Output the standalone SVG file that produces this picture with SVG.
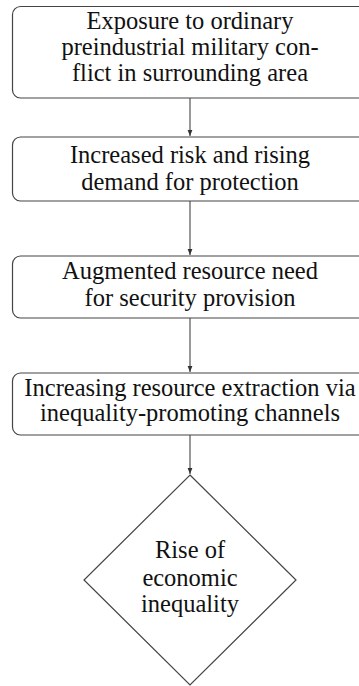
<svg xmlns="http://www.w3.org/2000/svg" width="359" height="686" viewBox="0 0 359 686">
<style>
.box{fill:#fff;stroke:#444;stroke-width:1.2}
.t{font-family:'Liberation Serif','Times New Roman',serif;font-size:24.5px;fill:#111;text-anchor:middle}
.c{stroke:#444;stroke-width:1.1;fill:none}
</style>
<defs>
<marker id="ah" viewBox="0 0 10 10" refX="10" refY="5" markerWidth="6" markerHeight="6" markerUnits="userSpaceOnUse" orient="auto">
<path d="M0,1 L10,5 L0,9 Z" fill="#333"/>
</marker>
</defs>
<rect width="359" height="686" fill="#fff"/>
<g id="connectors">
<line class="c" x1="190" y1="98" x2="190" y2="136" marker-end="url(#ah)"/>
<line class="c" x1="190" y1="201" x2="190" y2="255" marker-end="url(#ah)"/>
<line class="c" x1="190" y1="318" x2="190" y2="372" marker-end="url(#ah)"/>
<line class="c" x1="190" y1="435" x2="190" y2="474" marker-end="url(#ah)"/>
</g>
<g id="node1">
<rect class="box" x="12.5" y="6.5" width="355" height="91.5" rx="8"/>
<text class="t" x="190" y="29">Exposure to ordinary</text>
<text class="t" x="190" y="55">preindustrial military con-</text>
<text class="t" x="190" y="81">flict in surrounding area</text>
</g>
<g id="node2">
<rect class="box" x="12.5" y="137" width="355" height="64" rx="8"/>
<text class="t" x="190" y="163">Increased risk and rising</text>
<text class="t" x="190" y="190">demand for protection</text>
</g>
<g id="node3">
<rect class="box" x="12.5" y="256" width="355" height="62" rx="8"/>
<text class="t" x="190" y="279">Augmented resource need</text>
<text class="t" x="190" y="306">for security provision</text>
</g>
<g id="node4">
<rect class="box" x="12.5" y="373" width="355" height="62" rx="8"/>
<text class="t" x="190" y="396">Increasing resource extraction via</text>
<text class="t" x="190" y="421">inequality-promoting channels</text>
</g>
<g id="node5">
<polygon class="box" points="190,475 296,580 190,685 84,580"/>
<text class="t" x="190" y="558">Rise of</text>
<text class="t" x="190" y="586">economic</text>
<text class="t" x="190" y="612">inequality</text>
</g>
</svg>
